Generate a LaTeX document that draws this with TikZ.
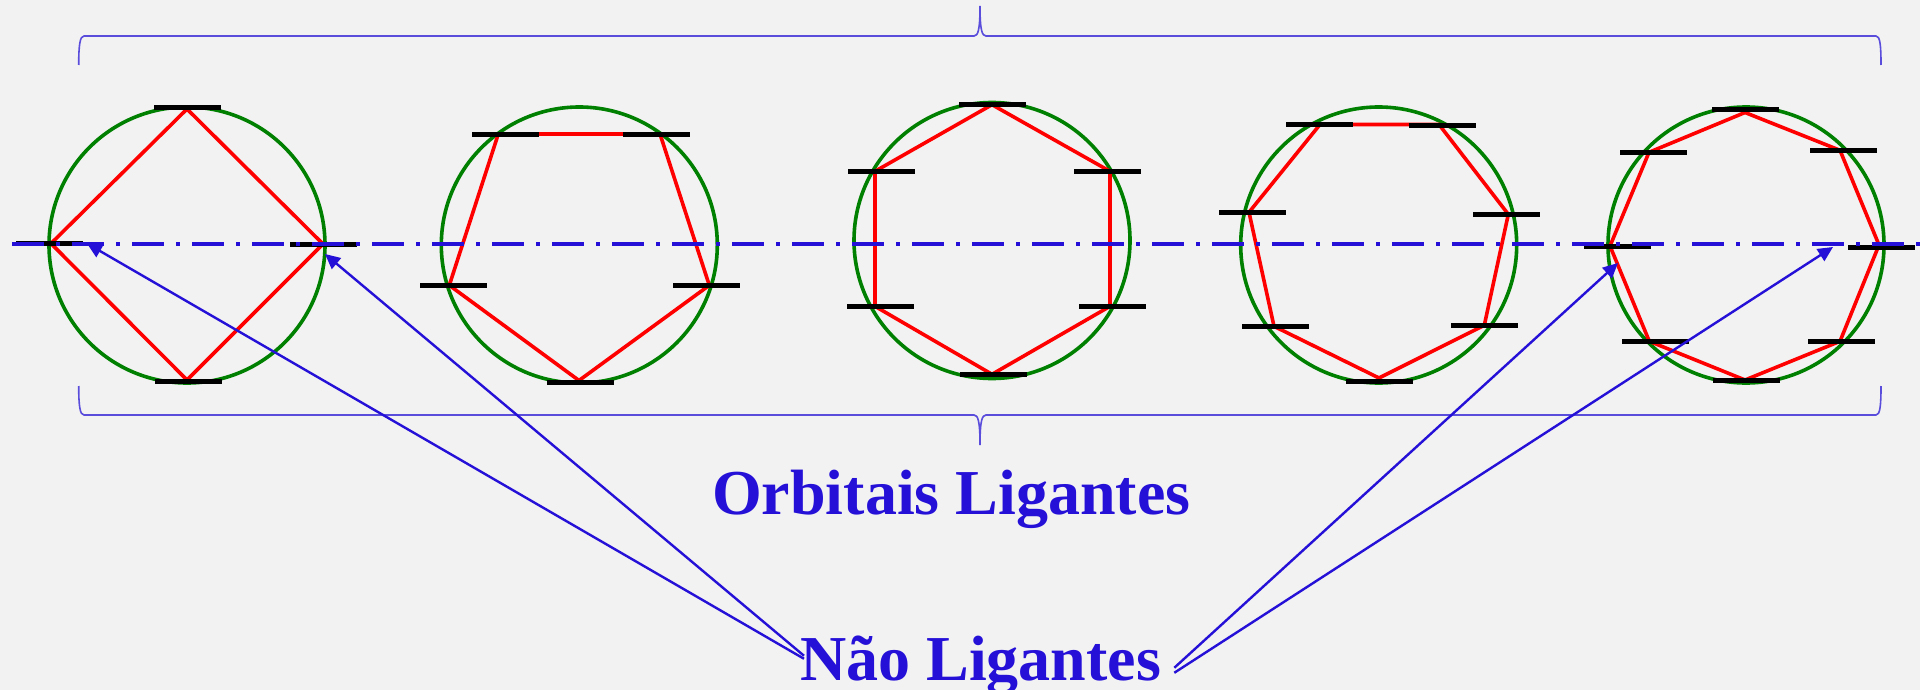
\documentclass[tikz,border=0pt]{standalone}
\usepackage{fontspec}
\setmainfont{Liberation Serif}
\usetikzlibrary{arrows.meta}
\definecolor{bg}{HTML}{F2F2F2}
\definecolor{azul}{HTML}{2510D8}
\definecolor{azulclaro}{HTML}{5A4DDC}
\definecolor{verde}{HTML}{008000}
\tikzset{
  orbit/.style={draw=verde,line width=3.6pt},
  ring/.style={draw=red,line width=3.6pt,line join=miter},
  level/.style={draw=black,line width=5pt},
  axisline/.style={draw=azul,line width=4pt,dash pattern=on 32pt off 12pt on 4pt off 12pt},
  brace/.style={draw=azulclaro,line width=1.6pt},
  pointer/.style={draw=azul,line width=2.4pt,-{Triangle[length=15pt,width=14pt]}},
  title/.style={text=azul,font=\bfseries\fontsize{64}{64}\selectfont,inner sep=0pt,anchor=base west},
}
\newcommand{\barlist}[1]{\foreach \xa/\xb/\yy in {#1}{\draw[level] (\xa,\yy) -- (\xb,\yy);}}
\begin{document}
\begin{tikzpicture}[x=1pt,y=-1pt]
\fill[bg] (0,0) rectangle (1920,690);
\useasboundingbox (0,0) rectangle (1920,690);
% brackets
\draw[brace] (78.7,65) .. controls (78.7,45) and (80,36) .. (84,36) -- (974,36) .. controls (978,36) and (980,30) .. (980,6) .. controls (980,30) and (982,36) .. (986,36) -- (1876,36) .. controls (1880,36) and (1881,45) .. (1881,65);
\draw[brace] (78.7,386) .. controls (78.7,406) and (80,415) .. (84,415) -- (974,415) .. controls (978,415) and (980,421) .. (980,445) .. controls (980,421) and (982,415) .. (986,415) -- (1876,415) .. controls (1880,415) and (1881,406) .. (1881,386);
% circles
\draw[orbit] (187,245) circle (138);
\draw[orbit] (579.3,245) circle (138);
\draw[orbit] (992,240.5) circle (138);
\draw[orbit] (1378.7,245) circle (138);
\draw[orbit] (1746,245) circle (138);
% polygons
\draw[ring] (187,109) -- (323,244) -- (187,380) -- (51,243.5) -- cycle;
\draw[ring] (498.3,134) -- (660,134) -- (709.3,285.3) -- (579,380.5) -- (449.3,285.3) -- cycle;
\draw[ring] (992,104.7) -- (1110,171.3) -- (1110,306.3) -- (992,374.3) -- (875,306.3) -- (875,171.3) -- cycle;
\draw[ring] (1320,124.5) -- (1439,124.5) -- (1508.3,214.3) -- (1484.3,325.3) -- (1379,378) -- (1274,326.3) -- (1249,212.3) -- cycle;
\draw[ring] (1745,112.5) -- (1840,150.3) -- (1879,245) -- (1840,341.3) -- (1745,380) -- (1649.3,341.3) -- (1610,246) -- (1649,152.3) -- cycle;
% levels
\barlist{154/221/107.5,155/222/381.5,16/83/243.5,290/357/244.5}
\barlist{472/539/134.3,623/690/134.3,420/487/285.3,673/740/285.3,547/614/382.3}
\barlist{959/1026/104.3,848/915/171.3,1074/1141/171.3,847/914/306.3,1079/1146/306.3,960/1027/374.3}
\barlist{1286/1353/124.3,1409/1476/125.3,1219/1286/212.3,1473/1540/214.3,1242/1309/326.3,1451/1518/325.3,1346/1413/381.3}
\barlist{1712/1779/109.3,1620/1687/152.3,1810/1877/150.3,1584/1651/246,1848/1915/247.3,1622/1689/341.3,1808/1875/341.3,1713/1780/380.3}
% axis
\draw[axisline] (12,243.5) -- (1920,243.5);
% labels
\node[title] (orb) at (712,514) {Orbitais Ligantes};
\node[title] (nao) at (800,680) {Não Ligantes};
% arrow ends
\coordinate (t1) at (87,243.5);
\coordinate (t2) at (325,254);
\coordinate (t3) at (1618,263);
\coordinate (t4) at (1833,247);
\draw[pointer] ([shift={(4,-6)}]nao.west) -- (t1);
\draw[pointer] ([shift={(4,-9)}]nao.west) -- (t2);
\draw[pointer] ([shift={(13,3)}]nao.east) -- (t3);
\draw[pointer] ([shift={(13,8)}]nao.east) -- (t4);
\end{tikzpicture}
\end{document}
